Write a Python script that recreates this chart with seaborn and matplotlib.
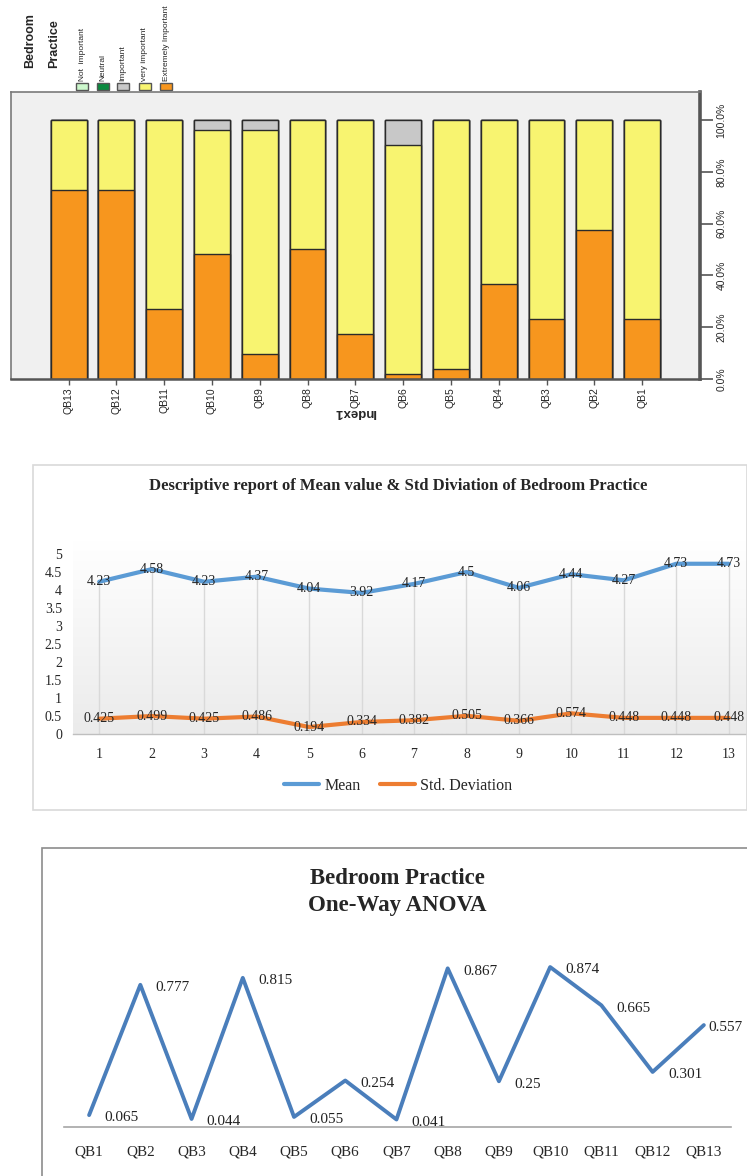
import numpy as np
import pandas as pd
import matplotlib
matplotlib.use("Agg")
import matplotlib.pyplot as plt
import seaborn as sns
from matplotlib.patches import Rectangle
from matplotlib.lines import Line2D

# ---- data ----
questions = ["QB1", "QB2", "QB3", "QB4", "QB5", "QB6", "QB7",
             "QB8", "QB9", "QB10", "QB11", "QB12", "QB13"]

# percentage stacked bar (bottom -> top)
extremely = [23.1, 57.7, 23.1, 36.5, 3.8, 1.9, 17.3, 50.0, 9.6, 48.1, 26.9, 73.1, 73.1]
very = [76.9, 42.3, 76.9, 63.5, 96.2, 88.5, 82.7, 50.0, 86.6, 48.1, 73.1, 26.9, 26.9]
important = [0, 0, 0, 0, 0, 9.6, 0, 0, 3.8, 3.8, 0, 0, 0]
neutral = [0, 0, 0, 0, 0, 0, 0, 0, 0, 0, 0, 0, 0]
not_important = [0, 0, 0, 0, 0, 0, 0, 0, 0, 0, 0, 0, 0]

level_names = ["Extremely Important", "very important", "Important", "Neutral", "Not  important"]
level_colors = ["#f7961e", "#f8f470", "#c8c8c8", "#0b8a3f", "#ccf7cc"]

# descriptive
item_no = [1, 2, 3, 4, 5, 6, 7, 8, 9, 10, 11, 12, 13]
mean_vals = [4.23, 4.58, 4.23, 4.37, 4.04, 3.92, 4.17, 4.5, 4.06, 4.44, 4.27, 4.73, 4.73]
std_vals = [0.425, 0.499, 0.425, 0.486, 0.194, 0.334, 0.382, 0.505, 0.366, 0.574, 0.448, 0.448, 0.448]

# one-way anova
anova_p = [0.065, 0.777, 0.044, 0.815, 0.055, 0.254, 0.041, 0.867, 0.25, 0.874, 0.665, 0.301, 0.557]
anova_lbl = ["0.065", "0.777", "0.044", "0.815", "0.055", "0.254", "0.041",
             "0.867", "0.25", "0.874", "0.665", "0.301", "0.557"]

W, H = 747, 1176
NARROW = ["Liberation Sans Narrow", "Liberation Sans", "DejaVu Sans"]
SERIF = ["Liberation Serif", "DejaVu Serif"]

sns.set_style("white")
fig = plt.figure(figsize=(W / 100, H / 100), dpi=100)


def box(x0, y0, x1, y1):
    return [x0 / W, 1 - y1 / H, (x1 - x0) / W, (y1 - y0) / H]


def fx(x):
    return x / W


def fy(y):
    return 1 - y / H


# ================= panel 1 : stacked percentage bars =================
ax1 = fig.add_axes(box(10.5, 92, 700, 379))
ax1.set_facecolor("#f0f0f0")
order = questions[::-1]
levels = [extremely, very, important, neutral, not_important]
df1 = pd.DataFrame({"question": questions})
running = np.zeros(len(questions))
cum_cols = []
for name, vals in zip(level_names, levels):
    running = running + np.array(vals)
    df1[name] = running
    cum_cols.append(name)

for name, color in zip(cum_cols[::-1], level_colors[::-1]):
    sns.barplot(data=df1, x="question", y=name, order=order, color=color,
                saturation=1, width=0.75, errorbar=None,
                edgecolor="#2a2a2a", linewidth=1.0, ax=ax1)

ax1.set_xlim(-1.215, 13.21)
ax1.set_ylim(0, 110.8)
ax1.set_xlabel("")
ax1.set_ylabel("")
ax1.yaxis.tick_right()
yt = [0, 20, 40, 60, 80, 100]
ax1.set_yticks(yt)
ax1.set_yticklabels([f"{v:.1f}%" for v in yt], rotation=90, va="center",
                    fontsize=7.5, family=NARROW)
ax1.set_xticks(range(len(order)))
ax1.set_xticklabels(order, rotation=90, fontsize=7.5, family=NARROW)
ax1.tick_params(axis="y", which="both", right=True, left=False, length=9,
                width=1.2, color="#555555", direction="out", pad=3)
ax1.tick_params(axis="x", bottom=True, length=4, width=1.0, color="#555555",
                direction="out", pad=2)
for s in ["top", "left"]:
    ax1.spines[s].set_color("#7a7a7a")
    ax1.spines[s].set_linewidth(1.2)
ax1.spines["right"].set_color("#555555")
ax1.spines["right"].set_linewidth(2.6)
ax1.spines["bottom"].set_color("#555555")
ax1.spines["bottom"].set_linewidth(1.8)

fig.text(fx(355), fy(412), "Index1", rotation=180, ha="center", va="center",
         fontsize=9.5, fontweight="bold", family=["Liberation Sans", "DejaVu Sans"])

# legend (rotated like the source)
fig.text(fx(30), fy(68), "Bedroom", rotation=90, ha="center", va="bottom",
         fontsize=9, fontweight="bold", family=NARROW)
fig.text(fx(54), fy(68), "Practice", rotation=90, ha="center", va="bottom",
         fontsize=9, fontweight="bold", family=NARROW)
leg_x = [76, 97, 117, 139, 160]
for x0, name, color in zip(leg_x, level_names[::-1], level_colors[::-1]):
    fig.add_artist(Rectangle((fx(x0), fy(90)), 12 / W, 7 / H,
                             transform=fig.transFigure, facecolor=color,
                             edgecolor="#555555", linewidth=1.0))
    fig.text(fx(x0 + 6), fy(81), name, rotation=90, ha="center", va="bottom",
             fontsize=6.0, family=NARROW)

# ================= panel 2 : mean & std lines =================
fig.add_artist(Rectangle((fx(33), fy(810)), (747 - 33) / W, (810 - 465) / H,
                         transform=fig.transFigure, fill=False,
                         edgecolor="#d9d9d9", linewidth=1.2))
fig.text(fx(398), fy(486),
         "Descriptive report of Mean value & Std Diviation of Bedroom Practice",
         ha="center", va="center", fontsize=12, fontweight="bold", family=SERIF)

ax2 = fig.add_axes(box(73, 540, 755, 734))
ytop = 5.39
ax2.set_xlim(0.5, 13.5)
ax2.set_ylim(0, ytop)
grad = np.linspace(0, 1, 100).reshape(-1, 1)
ax2.imshow(grad, extent=(0.5, 13.5, 0, ytop), aspect="auto",
           cmap=matplotlib.colors.LinearSegmentedColormap.from_list("g", ["#ebebeb", "#ffffff"]),
           origin="lower", zorder=0)
ax2.vlines(item_no, 0, mean_vals, color="#d9d9d9", linewidth=1.0, zorder=1)

df2 = pd.DataFrame({"item": item_no, "Mean": mean_vals, "Std. Deviation": std_vals})
sns.lineplot(data=df2, x="item", y="Mean", color="#5b9bd5", linewidth=3,
             ax=ax2, zorder=3)
sns.lineplot(data=df2, x="item", y="Std. Deviation", color="#ed7d31",
             linewidth=3, ax=ax2, zorder=3)
for xi, m in zip(item_no, mean_vals):
    ax2.text(xi, m, f"{m:g}", ha="center", va="center", fontsize=10,
             family=SERIF, zorder=4)
for xi, s in zip(item_no, std_vals):
    ax2.text(xi, s, f"{s:g}", ha="center", va="center", fontsize=10,
             family=SERIF, zorder=4)

yt2 = [0, 0.5, 1, 1.5, 2, 2.5, 3, 3.5, 4, 4.5, 5]
ax2.set_yticks(yt2)
ax2.set_yticklabels([f"{v:g}" for v in yt2], fontsize=10, family=SERIF)
ax2.set_xticks(item_no)
ax2.set_xticklabels([str(i) for i in item_no], fontsize=10, family=SERIF)
ax2.tick_params(axis="both", length=0)
ax2.tick_params(axis="y", pad=8)
ax2.tick_params(axis="x", pad=10)
ax2.set_xlabel("")
ax2.set_ylabel("")
for s in ["top", "left", "right"]:
    ax2.spines[s].set_visible(False)
ax2.spines["bottom"].set_color("#bfbfbf")
ax2.spines["bottom"].set_linewidth(1.0)
handles = [Line2D([], [], color="#5b9bd5", lw=3),
           Line2D([], [], color="#ed7d31", lw=3)]
ax2.legend(handles, ["Mean", "Std. Deviation"], loc="center",
           bbox_to_anchor=(fx(398), fy(786)), bbox_transform=fig.transFigure,
           ncol=2, frameon=False, prop={"family": SERIF, "size": 11.5},
           handlelength=2.2, handletextpad=0.3, columnspacing=1.2)

# ================= panel 3 : one-way anova =================
fig.add_artist(Rectangle((fx(42), fy(1190)), (770 - 42) / W, (1190 - 848) / H,
                         transform=fig.transFigure, fill=False,
                         edgecolor="#8c8c8c", linewidth=1.2))
fig.text(fx(397), fy(878), "Bedroom Practice", ha="center", va="center",
         fontsize=16.5, fontweight="bold", family=SERIF)
fig.text(fx(397), fy(906), "One-Way ANOVA", ha="center", va="center",
         fontsize=16.5, fontweight="bold", family=SERIF)

ax3 = fig.add_axes(box(64, 940, 731, 1127))
df3 = pd.DataFrame({"pos": np.arange(len(questions)), "p": anova_p})
sns.lineplot(data=df3, x="pos", y="p", color="#4a7ebb", linewidth=2.8, ax=ax3)
last = len(anova_p) - 1
for xi, v, lbl in zip(df3["pos"], anova_p, anova_lbl):
    dx = 3 if xi == last else 11
    ax3.annotate(lbl, (xi, v), xytext=(dx, -2), textcoords="offset points",
                 ha="left", va="center", fontsize=11, family=SERIF, color="#222222")
ax3.set_xlim(-0.49, 12.53)
ax3.set_ylim(0, 1.022)
ax3.set_xticks(df3["pos"])
ax3.set_xticklabels(questions, fontsize=11, family=SERIF)
ax3.set_yticks([])
ax3.tick_params(axis="x", length=0, pad=13)
ax3.set_xlabel("")
ax3.set_ylabel("")
ax3.set_facecolor("none")
for s in ["top", "left", "right"]:
    ax3.spines[s].set_visible(False)
ax3.spines["bottom"].set_color("#a6a6a6")
ax3.spines["bottom"].set_linewidth(1.2)

fig.savefig("out.png", dpi=100)
